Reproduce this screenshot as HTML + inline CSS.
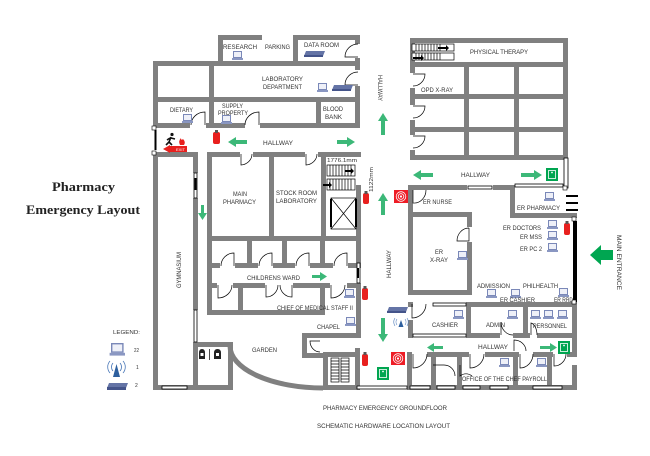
<!DOCTYPE html>
<html><head><meta charset="utf-8"><style>
html,body{margin:0;padding:0;background:#fff;}
svg{display:block;}
text{font-family:"Liberation Sans",sans-serif;fill:#333;font-size:6px;}
.ti{font-family:"Liberation Serif",serif;font-weight:bold;font-size:13px;fill:#222;}
</style></head><body>
<svg width="650" height="456" viewBox="0 0 650 456" xmlns="http://www.w3.org/2000/svg">
<rect width="650" height="456" fill="#fff"/>
<g fill="#808080">
<!-- research block -->
<rect x="218" y="35" width="44" height="5"/>
<rect x="218" y="35" width="5" height="28"/>
<rect x="293" y="35" width="67" height="5"/>
<rect x="293" y="35" width="5" height="28"/>
<rect x="355" y="35" width="5" height="9"/>
<rect x="355" y="58" width="5" height="5"/>
<!-- left building upper -->
<rect x="153" y="61" width="207" height="5"/>
<rect x="153" y="61" width="5" height="67"/>
<rect x="153" y="155" width="5" height="235"/>
<rect x="355" y="61" width="5" height="9"/>
<rect x="355" y="86" width="5" height="42"/>
<rect x="153" y="97" width="207" height="5"/>
<rect x="209" y="66" width="5" height="31"/>
<rect x="153" y="123" width="37" height="5"/>
<rect x="206" y="123" width="39" height="5"/>
<rect x="260" y="123" width="100" height="5"/>
<rect x="209" y="102" width="5" height="21"/>
<rect x="316" y="102" width="5" height="21"/>
<!-- gym -->
<rect x="153" y="152" width="45" height="5"/>
<rect x="193" y="152" width="5" height="21"/>
<rect x="193" y="198" width="5" height="112"/>
<rect x="193" y="342" width="5" height="48"/>
<rect x="153" y="385" width="80" height="5"/>
<rect x="193" y="342" width="40" height="5"/>
<rect x="228" y="342" width="5" height="48"/>
<!-- pharmacy block -->
<rect x="207" y="152" width="33" height="5"/>
<rect x="253" y="152" width="52" height="5"/>
<rect x="318" y="152" width="43" height="5"/>
<rect x="207" y="152" width="5" height="163"/>
<rect x="269" y="157" width="5" height="79"/>
<rect x="321" y="157" width="5" height="79"/>
<rect x="356" y="185" width="5" height="78"/>
<rect x="356" y="287" width="5" height="50"/>
<rect x="207" y="236" width="154" height="5"/>
<rect x="247" y="241" width="5" height="24"/>
<rect x="282" y="241" width="5" height="24"/>
<rect x="320" y="241" width="5" height="24"/>
<rect x="207" y="263" width="13" height="5"/>
<rect x="235" y="263" width="23" height="5"/>
<rect x="273" y="263" width="22" height="5"/>
<rect x="310" y="263" width="23" height="5"/>
<rect x="348" y="263" width="13" height="5"/>
<rect x="207" y="283" width="10" height="5"/>
<rect x="233" y="283" width="32" height="5"/>
<rect x="293" y="283" width="37" height="5"/>
<rect x="347" y="283" width="14" height="5"/>
<rect x="238" y="288" width="5" height="22"/>
<rect x="320" y="288" width="5" height="22"/>
<rect x="207" y="310" width="118" height="5"/>
<!-- chapel / stairs -->
<rect x="302" y="333" width="59" height="5"/>
<rect x="302" y="333" width="5" height="25"/>
<rect x="302" y="353" width="21" height="5"/>
<rect x="323" y="352" width="5" height="38"/>
<rect x="323" y="352" width="37" height="5"/>
<rect x="355" y="348" width="5" height="42"/>
<rect x="323" y="385" width="37" height="5"/>
<!-- PT building -->
<rect x="410" y="38" width="158" height="5"/>
<rect x="410" y="43" width="5" height="30"/>
<rect x="410" y="88" width="5" height="17"/>
<rect x="410" y="120" width="5" height="15"/>
<rect x="410" y="150" width="5" height="10"/>
<rect x="563" y="38" width="5" height="122"/>
<rect x="410" y="155" width="158" height="5"/>
<rect x="410" y="62" width="158" height="5"/>
<rect x="464" y="67" width="5" height="88"/>
<rect x="514" y="67" width="5" height="88"/>
<rect x="410" y="94" width="158" height="5"/>
<rect x="410" y="127" width="158" height="5"/>
<!-- ER -->
<rect x="408" y="185" width="59" height="5"/>
<rect x="493" y="185" width="22" height="5"/>
<rect x="408" y="185" width="5" height="110"/>
<rect x="408" y="212" width="64" height="5"/>
<rect x="467" y="212" width="5" height="15"/>
<rect x="467" y="242" width="5" height="53"/>
<rect x="408" y="290" width="64" height="5"/>
<rect x="510" y="185" width="5" height="33"/>
<rect x="510" y="213" width="67" height="5"/>
<!-- cashier row -->
<rect x="466" y="302" width="111" height="5"/>
<rect x="408" y="302" width="5" height="5"/>
<rect x="408" y="320" width="5" height="18"/>
<rect x="466" y="307" width="5" height="26"/>
<rect x="523" y="307" width="5" height="26"/>
<rect x="572" y="302" width="5" height="50"/>
<rect x="572" y="365" width="5" height="25"/>
<rect x="466" y="333" width="34" height="5"/>
<rect x="513" y="333" width="17" height="5"/>
<rect x="537" y="333" width="40" height="5"/>
<!-- lower row -->
<rect x="407" y="352" width="5" height="5"/>
<rect x="427" y="352" width="42" height="5"/>
<rect x="485" y="352" width="34" height="5"/>
<rect x="533" y="352" width="20" height="5"/>
<rect x="567" y="352" width="10" height="5"/>
<rect x="407" y="352" width="5" height="38"/>
<rect x="431" y="357" width="5" height="28"/>
<rect x="457" y="357" width="5" height="28"/>
<rect x="513" y="357" width="5" height="28"/>
<rect x="547" y="357" width="5" height="28"/>
<rect x="407" y="385" width="170" height="5"/>
</g>

<!-- garden arc -->
<path d="M230 346 A 93 42 0 0 0 323 388" stroke="#808080" stroke-width="5" fill="none"/>

<!-- toilets -->
<g fill="#222">
<path d="M199 359 L199 353 Q199 349 202 349 Q205 349 205 353 L205 359 Z"/>
<path d="M214 359 L214 353 Q214 349 217.5 349 Q221 349 221 353 L221 359 Z"/>
<rect x="209" y="349" width="0.8" height="11"/>
</g>
<g fill="#fff"><rect x="200.5" y="353" width="3" height="3"/><rect x="216" y="353" width="3" height="3"/></g>

<!-- windows (white with black border) -->
<g fill="#fff" stroke="#000" stroke-width="0.8">
<rect x="194" y="310" width="3" height="32"/>
<rect x="162" y="386" width="25" height="3"/>
<rect x="357" y="386" width="50" height="3"/>
<rect x="413" y="334" width="53" height="3"/>
<rect x="433" y="303" width="33" height="3"/>
<rect x="410" y="386" width="20" height="3"/>
<rect x="437" y="386" width="18" height="3"/>
<rect x="463" y="386" width="17" height="3"/>
<rect x="490" y="386" width="18" height="3"/>
<rect x="533" y="386" width="29" height="3"/>
<rect x="515" y="184" width="48" height="3"/>
<rect x="564" y="158" width="4" height="30"/>
<rect x="357" y="263" width="3" height="20"/>
<rect x="468" y="186" width="24" height="3"/>
<rect x="194" y="173" width="3" height="25"/>
</g>
<g fill="#000">
<rect x="573" y="221" width="4" height="81"/>
<rect x="154.5" y="130" width="2" height="20"/>
<rect x="357" y="268" width="2" height="10"/>
<rect x="194.5" y="178" width="2" height="12"/>
</g>
<g fill="#fff" stroke="#000" stroke-width="0.6">
<rect x="152" y="126" width="4" height="4"/><rect x="152" y="151" width="4" height="4"/>
<rect x="572" y="217" width="4" height="4"/><rect x="572" y="300" width="4" height="4"/>
<rect x="563" y="186" width="4" height="4"/>
</g>

<!-- doors -->
<g fill="none" stroke="#000" stroke-width="0.7">
<path d="M358 57 L345 57 A13 13 0 0 1 358 44"/>
<path d="M358 85 L345 85 A13 13 0 0 1 358 72"/>
<path d="M205 125 L205 112 A14 13 0 0 0 191 125"/>
<path d="M259 125 L259 112 A14 13 0 0 0 245 125"/>
<path d="M241 154 L241 165 A12 11 0 0 0 252 154"/>
<path d="M306 154 L306 165 A12 11 0 0 0 317 154"/>
<path d="M234 266 L234 253 A13 13 0 0 0 221 266"/>
<path d="M272 266 L272 253 A13 13 0 0 0 259 266"/>
<path d="M309 266 L309 253 A13 13 0 0 0 296 266"/>
<path d="M347 266 L347 253 A13 13 0 0 0 334 266"/>
<path d="M218 285 L218 298 A14 13 0 0 0 232 285"/>
<path d="M266 285 L266 297 A12 12 0 0 0 278 285 M292 285 L292 297 A12 12 0 0 1 280 285"/>
<path d="M331 285 L331 298 A14 13 0 0 0 345 285"/>
<path d="M413 74 L425 74 A12 12 0 0 1 413 86"/>
<path d="M413 106 L425 106 A12 12 0 0 1 413 118"/>
<path d="M413 136 L425 136 A12 12 0 0 1 413 148"/>
<path d="M469 228 L469 241 L457 241 A12 13 0 0 1 469 228"/>
<path d="M412 304 L412 318 A14 14 0 0 0 426 304"/>
<path d="M501 335 L501 322 A12 13 0 0 0 513 335"/>
<path d="M531 335 L531 323 A7 12 0 0 1 537 335"/>
<path d="M413 354 L413 368 A14 14 0 0 0 427 354"/>
<path d="M470 354 L470 368 A14 14 0 0 0 484 354"/>
<path d="M520 354 L520 368 A13 14 0 0 0 533 354"/>
<path d="M554 354 L554 366 A12 12 0 0 0 566 354"/>
<path d="M433 365 L444 365 A11 11 0 0 1 455 376"/>
<path d="M460 365 L460 376 A10 11 0 0 1 472 376"/>
<path d="M514 351 L514 340 A12 11 0 0 1 526 351"/>
<path d="M320 341 L310 341 A10 11 0 0 0 320 352"/>
<path d="M413 190 L413 203 A12 13 0 0 0 426 190"/>
</g>

<!-- stairs & elevator -->
<g stroke="#000" stroke-width="0.7" fill="#fff">
<rect x="327" y="165" width="28" height="11"/>
<rect x="327" y="179" width="28" height="11"/>
<path d="M330 165v11M333 165v11M336 165v11M339 165v11M342 165v11M345 165v11M348 165v11M351 165v11M330 179v11M333 179v11M336 179v11M339 179v11M342 179v11M345 179v11M348 179v11M351 179v11" fill="none"/>
<rect x="331" y="198" width="25" height="31"/>
<path d="M331 198 L356 229 M356 198 L331 229" fill="none"/>
<rect x="412" y="44" width="42" height="7"/>
<rect x="412" y="53" width="42" height="7"/>
<path d="M416 44v7M419 44v7M422 44v7M425 44v7M428 44v7M431 44v7M434 44v7M437 44v7M440 44v7M416 53v7M419 53v7M422 53v7M425 53v7M428 53v7M431 53v7M434 53v7M437 53v7M440 53v7" fill="none"/>
<rect x="331" y="358" width="8" height="24"/>
<rect x="341" y="358" width="8" height="24"/>
<path d="M331 361h8M331 364h8M331 367h8M331 370h8M331 373h8M331 376h8M331 379h8M341 361h8M341 364h8M341 367h8M341 370h8M341 373h8M341 376h8M341 379h8" fill="none"/>
</g>
<g fill="#000">
<rect x="330" y="199" width="2" height="28"/>
<rect x="355" y="199" width="2" height="28"/>
<path d="M345 170 h6 v-2 l3 3 l-3 3 v-2 h-6z"/>
<path d="M323 184 h6 v-2 l3 3 l-3 3 v-2 h-6z"/>
<path d="M438 47 h8 v-2 l3 3 l-3 3 v-2 h-8z"/>
<path d="M413 57 h8 v-2 l3 3 l-3 3 v-2 h-8z"/>
<rect x="566" y="195" width="12" height="2"/>
<rect x="566" y="202" width="12" height="2"/>
<rect x="566" y="209" width="12" height="2"/>
</g>

<!-- green arrows -->
<g fill="#3cb878">
<polygon points="228,142 236,137 236,140 247,140 247,144 236,144 236,147"/>
<polygon points="355,142 347,137 347,140 337,140 337,144 347,144 347,147"/>
<polygon points="383,113 388,121 385,121 385,135 381,135 381,121 378,121"/>
<polygon points="383,193 388,201 385,201 385,215 381,215 381,201 378,201"/>
<polygon points="383,342 388,334 385,334 385,318 381,318 381,334 378,334"/>
<polygon points="413,175 421,170 421,173 433,173 433,177 421,177 421,180"/>
<polygon points="542,175 534,170 534,173 521,173 521,177 534,177 534,180"/>
<polygon points="327,276.5 320,272 320,275 312,275 312,278 320,278 320,281"/>
<polygon points="202.5,220 207,213 204,213 204,205 201,205 201,213 198,213"/>
<polygon points="427,347.5 434,343 434,346 443,346 443,349 434,349 434,352"/>
<polygon points="557,347.5 550,343 550,346 540,346 540,349 550,349 550,352"/>
</g>
<polygon points="590,255 601,245 601,250 613,250 613,260 601,260 601,265" fill="#00a651"/>

<!-- exit signs -->
<g>
<g transform="translate(546,168)"><rect width="12" height="13" fill="#00a550"/><rect x="2.5" y="2.5" width="7" height="8" fill="none" stroke="#fff" stroke-width="0.8"/><circle cx="6" cy="4.5" r="0.9" fill="#fff"/></g>
<g transform="translate(558,341)"><rect width="12" height="13" fill="#00a550"/><rect x="2.5" y="2.5" width="7" height="8" fill="none" stroke="#fff" stroke-width="0.8"/><circle cx="6" cy="4.5" r="0.9" fill="#fff"/></g>
<g transform="translate(377,367)"><rect width="12" height="13" fill="#00a550"/><rect x="2.5" y="2.5" width="7" height="8" fill="none" stroke="#fff" stroke-width="0.8"/><circle cx="6" cy="4.5" r="0.9" fill="#fff"/></g>
</g>

<!-- fire alarms -->
<g>
<g transform="translate(394,190)"><rect width="14" height="13" fill="#ee1c25"/><circle cx="7" cy="6.5" r="4.8" fill="none" stroke="#fff" stroke-width="0.8"/><circle cx="7" cy="6.5" r="2.8" fill="none" stroke="#fff" stroke-width="0.8"/><circle cx="7" cy="6.5" r="1.1" fill="#fff"/></g>
<g transform="translate(391,352)"><rect width="14" height="13" fill="#ee1c25"/><circle cx="7" cy="6.5" r="4.8" fill="none" stroke="#fff" stroke-width="0.8"/><circle cx="7" cy="6.5" r="2.8" fill="none" stroke="#fff" stroke-width="0.8"/><circle cx="7" cy="6.5" r="1.1" fill="#fff"/></g>
</g>

<!-- fire extinguishers -->
<g>
<g transform="translate(213,130)"><rect x="0" y="2" width="7" height="12" rx="2" fill="#e8201e"/><rect x="2" y="0" width="3" height="3" fill="#555"/></g>
<g transform="translate(363,191)"><rect x="0" y="2" width="6" height="11" rx="2" fill="#e8201e"/><rect x="1.5" y="0" width="3" height="3" fill="#555"/></g>
<g transform="translate(564,221)"><rect x="0" y="2" width="6" height="12" rx="2" fill="#e8201e"/><rect x="1.5" y="0" width="3" height="3" fill="#555"/></g>
<g transform="translate(362,286)"><rect x="0" y="2" width="6" height="12" rx="2" fill="#e8201e"/><rect x="1.5" y="0" width="3" height="3" fill="#555"/></g>
<g transform="translate(362,352)"><rect x="0" y="2" width="6" height="12" rx="2" fill="#e8201e"/><rect x="1.5" y="0" width="3" height="3" fill="#555"/></g>
</g>

<!-- left exit figure -->
<g>
<circle cx="172" cy="134.5" r="1.6" fill="#111"/>
<path d="M171 137 L169 142 L166 145 M169 142 L172 145 M171 138 L175 139 M170 138 L167 140" stroke="#111" stroke-width="1.6" fill="none"/>
<path d="M180 145 Q178 141 181 138 Q181 141 183 139 Q186 142 184 145 Z" fill="#e8201e"/>
<rect x="170" y="146" width="17" height="6" fill="#e8201e"/>
<polygon points="163,149 170,145 170,153" fill="#e8201e"/>
<text x="176" y="151" style="font-size:4px;fill:#fff">EXIT</text>
</g>

<!-- computers -->
<g>
<g transform="translate(233,51)"><rect x="0.5" y="0.5" width="8" height="6" fill="#eef0f8" stroke="#7a88b8"/><rect x="-1" y="7" width="11" height="2" fill="#8a97c2"/></g>
<g transform="translate(318,83)"><rect x="0.5" y="0.5" width="8" height="6" fill="#eef0f8" stroke="#7a88b8"/><rect x="-1" y="7" width="11" height="2" fill="#8a97c2"/></g>
<g transform="translate(183,114)"><rect x="0.5" y="0.5" width="8" height="6" fill="#eef0f8" stroke="#7a88b8"/><rect x="-1" y="7" width="11" height="2" fill="#8a97c2"/></g>
<g transform="translate(222,115)"><rect x="0.5" y="0.5" width="8" height="6" fill="#eef0f8" stroke="#7a88b8"/><rect x="-1" y="7" width="11" height="2" fill="#8a97c2"/></g>
<g transform="translate(345,289)"><rect x="0.5" y="0.5" width="8" height="6" fill="#eef0f8" stroke="#7a88b8"/><rect x="-1" y="7" width="11" height="2" fill="#8a97c2"/></g>
<g transform="translate(346,317)"><rect x="0.5" y="0.5" width="8" height="6" fill="#eef0f8" stroke="#7a88b8"/><rect x="-1" y="7" width="11" height="2" fill="#8a97c2"/></g>
<g transform="translate(545,192)"><rect x="0.5" y="0.5" width="8" height="6" fill="#eef0f8" stroke="#7a88b8"/><rect x="-1" y="7" width="11" height="2" fill="#8a97c2"/></g>
<g transform="translate(548,220)"><rect x="0.5" y="0.5" width="8" height="6" fill="#eef0f8" stroke="#7a88b8"/><rect x="-1" y="7" width="11" height="2" fill="#8a97c2"/></g>
<g transform="translate(548,231)"><rect x="0.5" y="0.5" width="8" height="6" fill="#eef0f8" stroke="#7a88b8"/><rect x="-1" y="7" width="11" height="2" fill="#8a97c2"/></g>
<g transform="translate(548,243)"><rect x="0.5" y="0.5" width="8" height="6" fill="#eef0f8" stroke="#7a88b8"/><rect x="-1" y="7" width="11" height="2" fill="#8a97c2"/></g>
<g transform="translate(458,251)"><rect x="0.5" y="0.5" width="8" height="6" fill="#eef0f8" stroke="#7a88b8"/><rect x="-1" y="7" width="11" height="2" fill="#8a97c2"/></g>
<g transform="translate(487,289)"><rect x="0.5" y="0.5" width="8" height="6" fill="#eef0f8" stroke="#7a88b8"/><rect x="-1" y="7" width="11" height="2" fill="#8a97c2"/></g>
<g transform="translate(511,289)"><rect x="0.5" y="0.5" width="8" height="6" fill="#eef0f8" stroke="#7a88b8"/><rect x="-1" y="7" width="11" height="2" fill="#8a97c2"/></g>
<g transform="translate(559,288)"><rect x="0.5" y="0.5" width="8" height="6" fill="#eef0f8" stroke="#7a88b8"/><rect x="-1" y="7" width="11" height="2" fill="#8a97c2"/></g>
<g transform="translate(454,310)"><rect x="0.5" y="0.5" width="8" height="6" fill="#eef0f8" stroke="#7a88b8"/><rect x="-1" y="7" width="11" height="2" fill="#8a97c2"/></g>
<g transform="translate(508,310)"><rect x="0.5" y="0.5" width="8" height="6" fill="#eef0f8" stroke="#7a88b8"/><rect x="-1" y="7" width="11" height="2" fill="#8a97c2"/></g>
<g transform="translate(531,310)"><rect x="0.5" y="0.5" width="8" height="6" fill="#eef0f8" stroke="#7a88b8"/><rect x="-1" y="7" width="11" height="2" fill="#8a97c2"/></g>
<g transform="translate(544,310)"><rect x="0.5" y="0.5" width="8" height="6" fill="#eef0f8" stroke="#7a88b8"/><rect x="-1" y="7" width="11" height="2" fill="#8a97c2"/></g>
<g transform="translate(558,310)"><rect x="0.5" y="0.5" width="8" height="6" fill="#eef0f8" stroke="#7a88b8"/><rect x="-1" y="7" width="11" height="2" fill="#8a97c2"/></g>
<g transform="translate(500,358)"><rect x="0.5" y="0.5" width="8" height="6" fill="#eef0f8" stroke="#7a88b8"/><rect x="-1" y="7" width="11" height="2" fill="#8a97c2"/></g>
<g transform="translate(537,358)"><rect x="0.5" y="0.5" width="8" height="6" fill="#eef0f8" stroke="#7a88b8"/><rect x="-1" y="7" width="11" height="2" fill="#8a97c2"/></g>
<g transform="translate(111,343) scale(1.4)"><rect x="0.5" y="0.5" width="8" height="6" fill="#eef0f8" stroke="#7a88b8"/><rect x="-1" y="7" width="11" height="2" fill="#8a97c2"/></g>
</g>

<!-- routers -->
<g>
<g transform="translate(304,51)"><polygon points="2,0 21,0 19,5 0,5" fill="#6474a6"/><rect x="0" y="4" width="19" height="2" fill="#44548a"/></g>
<g transform="translate(332,85)"><polygon points="2,0 21,0 19,5 0,5" fill="#6474a6"/><rect x="0" y="4" width="19" height="2" fill="#44548a"/></g>
<g transform="translate(387,307)"><polygon points="2,0 21,0 19,5 0,5" fill="#6474a6"/><rect x="0" y="4" width="19" height="2" fill="#44548a"/></g>
<g transform="translate(107,383)"><polygon points="2,0 21,0 19,5 0,5" fill="#6474a6"/><rect x="0" y="4" width="19" height="3" fill="#44548a"/></g>
</g>

<!-- wifi -->
<g>
<polygon points="401,320 398.5,327 403.5,327" fill="#2d5f9e"/>
<path d="M397 319 A5 5 0 0 0 397 325 M405 319 A5 5 0 0 1 405 325 M395 318 A7 7 0 0 0 395 326 M407 318 A7 7 0 0 1 407 326" stroke="#4a78b8" stroke-width="0.6" fill="none"/>
<polygon points="116.5,364 113,377 120,377" fill="#2d5f9e"/>
<path d="M113 363 A6 6 0 0 0 113 371 M120 363 A6 6 0 0 1 120 371 M110 361 A9 9 0 0 0 110 373 M123 361 A9 9 0 0 1 123 373" stroke="#4a78b8" stroke-width="0.8" fill="none"/>
</g>

<!-- labels -->
<text x="223" y="49" textLength="34" lengthAdjust="spacingAndGlyphs">RESEARCH</text>
<text x="265" y="49" textLength="25" lengthAdjust="spacingAndGlyphs">PARKING</text>
<text x="304" y="47" textLength="35" lengthAdjust="spacingAndGlyphs">DATA ROOM</text>
<text x="262" y="81" textLength="41" lengthAdjust="spacingAndGlyphs">LABORATORY</text>
<text x="263" y="89" textLength="39" lengthAdjust="spacingAndGlyphs">DEPARTMENT</text>
<text x="170" y="112" textLength="23" lengthAdjust="spacingAndGlyphs">DIETARY</text>
<text x="222" y="108" textLength="21" lengthAdjust="spacingAndGlyphs">SUPPLY</text>
<text x="218" y="115" textLength="30" lengthAdjust="spacingAndGlyphs">PROPERTY</text>
<text x="323" y="111" textLength="20" lengthAdjust="spacingAndGlyphs">BLOOD</text>
<text x="325" y="119" textLength="17" lengthAdjust="spacingAndGlyphs">BANK</text>
<text x="263" y="145" textLength="30" lengthAdjust="spacingAndGlyphs">HALLWAY</text>
<text x="233" y="196" textLength="14" lengthAdjust="spacingAndGlyphs">MAIN</text>
<text x="223" y="204" textLength="33" lengthAdjust="spacingAndGlyphs">PHARMACY</text>
<text x="276" y="195" textLength="41" lengthAdjust="spacingAndGlyphs">STOCK ROOM</text>
<text x="276" y="203" textLength="41" lengthAdjust="spacingAndGlyphs">LABORATORY</text>
<text x="327" y="162" textLength="30" lengthAdjust="spacingAndGlyphs" style="font-size:5px">1776.1mm</text>
<text transform="translate(373,192) rotate(-90)" textLength="25" lengthAdjust="spacingAndGlyphs" style="font-size:5px">1122mm</text>
<text x="247" y="280" textLength="53" lengthAdjust="spacingAndGlyphs">CHILDRENS WARD</text>
<text x="277" y="310" textLength="76" lengthAdjust="spacingAndGlyphs">CHIEF OF MEDICAL STAFF II</text>
<text x="317" y="329" textLength="23" lengthAdjust="spacingAndGlyphs">CHAPEL</text>
<text x="252" y="352" textLength="25" lengthAdjust="spacingAndGlyphs">GARDEN</text>
<text transform="translate(181,288) rotate(-90)" textLength="36" lengthAdjust="spacingAndGlyphs">GYMNASIUM</text>
<text transform="translate(378,75) rotate(90)" textLength="26" lengthAdjust="spacingAndGlyphs">HALLWAY</text>
<text transform="translate(391,278) rotate(-90)" textLength="28" lengthAdjust="spacingAndGlyphs">HALLWAY</text>
<text x="470" y="54" textLength="58" lengthAdjust="spacingAndGlyphs">PHYSICAL THERAPY</text>
<text x="421" y="92" textLength="32" lengthAdjust="spacingAndGlyphs">OPD X-RAY</text>
<text x="461" y="177" textLength="29" lengthAdjust="spacingAndGlyphs">HALLWAY</text>
<text x="423" y="204" textLength="29" lengthAdjust="spacingAndGlyphs">ER NURSE</text>
<text x="517" y="210" textLength="43" lengthAdjust="spacingAndGlyphs">ER PHARMACY</text>
<text x="503" y="230" textLength="38" lengthAdjust="spacingAndGlyphs">ER DOCTORS</text>
<text x="520" y="239" textLength="22" lengthAdjust="spacingAndGlyphs">ER MSS</text>
<text x="520" y="251" textLength="22" lengthAdjust="spacingAndGlyphs">ER PC 2</text>
<text x="435" y="254" textLength="8" lengthAdjust="spacingAndGlyphs">ER</text>
<text x="430" y="262" textLength="18" lengthAdjust="spacingAndGlyphs">X-RAY</text>
<text x="477" y="288" textLength="33" lengthAdjust="spacingAndGlyphs">ADMISSION</text>
<text x="523" y="288" textLength="35" lengthAdjust="spacingAndGlyphs">PHILHEALTH</text>
<text x="500" y="302" textLength="35" lengthAdjust="spacingAndGlyphs">ER CASHIER</text>
<text x="554" y="302" textLength="19" lengthAdjust="spacingAndGlyphs">ER RRD</text>
<text x="432" y="327" textLength="26" lengthAdjust="spacingAndGlyphs">CASHIER</text>
<text x="486" y="327" textLength="19" lengthAdjust="spacingAndGlyphs">ADMIN</text>
<text x="533" y="328" textLength="34" lengthAdjust="spacingAndGlyphs">PERSONNEL</text>
<text x="478" y="349" textLength="30" lengthAdjust="spacingAndGlyphs">HALLWAY</text>
<text x="462" y="381" textLength="85" lengthAdjust="spacingAndGlyphs">OFFICE OF THE CHEF PAYROLL</text>
<text transform="translate(617,235) rotate(90)" textLength="55" lengthAdjust="spacingAndGlyphs">MAIN ENTRANCE</text>
<text x="323" y="410" textLength="124" lengthAdjust="spacingAndGlyphs">PHARMACY EMERGENCY GROUNDFLOOR</text>
<text x="317" y="428" textLength="133" lengthAdjust="spacingAndGlyphs">SCHEMATIC HARDWARE LOCATION LAYOUT</text>
<text x="113" y="334" textLength="27" lengthAdjust="spacingAndGlyphs" style="font-size:5.5px">LEGEND:</text>
<text x="134" y="352" textLength="5" lengthAdjust="spacingAndGlyphs" style="font-size:5px">22</text>
<text x="136" y="369" style="font-size:5px">1</text>
<text x="135" y="387" style="font-size:5px">2</text>

<!-- title -->
<text class="ti" x="52" y="191" textLength="63" lengthAdjust="spacingAndGlyphs">Pharmacy</text>
<text class="ti" x="26" y="214" textLength="114" lengthAdjust="spacingAndGlyphs">Emergency Layout</text>
</svg>
</body></html>
